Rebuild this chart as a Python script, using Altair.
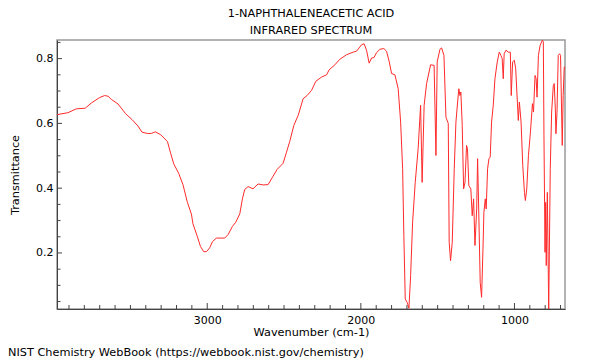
import altair as alt
import pandas as pd

# ---- data ----
wavenumber = [3978, 3907, 3852, 3794, 3754, 3700, 3668, 3646, 3624, 3581, 3531, 3490, 3451, 3425,
              3390, 3364, 3337, 3303, 3259, 3240, 3218, 3186, 3158, 3129, 3103, 3093, 3066, 3044,
              3023, 3005, 2984, 2966, 2940, 2886, 2864, 2836, 2814, 2788, 2771, 2756, 2734, 2702,
              2669, 2636, 2604, 2575, 2545, 2506, 2484, 2463, 2436, 2408, 2376, 2350, 2321, 2293,
              2256, 2223, 2207, 2169, 2137, 2093, 2050, 2028, 1995, 1979, 1963, 1946, 1930, 1915,
              1898, 1876, 1850, 1833, 1815, 1800, 1778, 1757, 1741, 1728, 1720, 1711, 1698, 1687,
              1676, 1663, 1646, 1627, 1611, 1601, 1588, 1572, 1546, 1523, 1511, 1503, 1485, 1474,
              1459, 1446, 1431, 1425, 1416, 1405, 1392, 1381, 1370, 1362, 1355, 1349, 1340, 1331,
              1322, 1312, 1306, 1297, 1284, 1275, 1266, 1257, 1246, 1240, 1231, 1223, 1214, 1205,
              1199, 1190, 1184, 1175, 1166, 1158, 1149, 1138, 1127, 1112, 1099, 1088, 1080, 1073,
              1067, 1055, 1040, 1027, 1021, 1012, 1001, 992, 981, 975, 968, 957, 946, 935, 929,
              920, 909, 896, 883, 876, 866, 859, 853, 844, 833, 818, 812, 808, 801, 797, 793, 786,
              777, 767, 758, 747, 741, 734, 730, 723, 715, 706, 700, 689, 683, 676, 671]
transmittance = [0.627, 0.633, 0.645, 0.647, 0.663, 0.680, 0.686, 0.684, 0.674, 0.660, 0.630, 0.612,
                 0.592, 0.573, 0.569, 0.569, 0.574, 0.565, 0.544, 0.511, 0.475, 0.446, 0.411, 0.356,
                 0.320, 0.290, 0.253, 0.220, 0.204, 0.204, 0.216, 0.235, 0.246, 0.246, 0.257, 0.282,
                 0.295, 0.321, 0.367, 0.396, 0.405, 0.398, 0.413, 0.410, 0.411, 0.434, 0.458, 0.477,
                 0.511, 0.544, 0.594, 0.625, 0.676, 0.686, 0.702, 0.730, 0.743, 0.750, 0.765, 0.781,
                 0.798, 0.812, 0.820, 0.823, 0.843, 0.846, 0.826, 0.786, 0.802, 0.803, 0.818, 0.829,
                 0.831, 0.823, 0.790, 0.754, 0.750, 0.707, 0.604, 0.460, 0.253, 0.058, 0.047, 0.029,
                 0.130, 0.295, 0.418, 0.522, 0.656, 0.418, 0.656, 0.723, 0.781, 0.779, 0.501, 0.790,
                 0.829, 0.833, 0.810, 0.619, 0.600, 0.233, 0.176, 0.233, 0.460, 0.604, 0.666, 0.707,
                 0.686, 0.697, 0.594, 0.398, 0.418, 0.532, 0.522, 0.408, 0.398, 0.315, 0.367, 0.223,
                 0.336, 0.491, 0.295, 0.109, 0.063, 0.212, 0.326, 0.367, 0.336, 0.460, 0.491, 0.496,
                 0.604, 0.656, 0.738, 0.790, 0.820, 0.810, 0.800, 0.738, 0.815, 0.826, 0.820, 0.820,
                 0.686, 0.790, 0.795, 0.769, 0.666, 0.609, 0.666, 0.604, 0.470, 0.387, 0.362, 0.398,
                 0.501, 0.573, 0.661, 0.635, 0.748, 0.738, 0.681, 0.810, 0.841, 0.857, 0.851, 0.563,
                 0.202, 0.356, 0.161, 0.387, 0.027, 0.460, 0.635, 0.717, 0.723, 0.645, 0.568, 0.635,
                 0.810, 0.815, 0.810, 0.532, 0.686, 0.774, 0.775]

x_domain = [3978, 671]
y_domain = [0.027, 0.8575]
x_labels = [1000, 2000, 3000]
x_minor = [v for v in range(700, 4000, 100) if v not in x_labels]
y_labels = [0.2, 0.4, 0.6, 0.8]
y_minor = [0.05, 0.10, 0.15, 0.25, 0.30, 0.35, 0.45, 0.50, 0.55, 0.65, 0.70, 0.75, 0.85]

title_lines = ["1-NAPHTHALENEACETIC ACID", "INFRARED SPECTRUM"]
credit = "NIST Chemistry WebBook (https://webbook.nist.gov/chemistry)"

W, H = 508, 269
FONT = "DejaVu Sans"

df = pd.DataFrame({"wn": wavenumber, "t": transmittance})

xscale = alt.Scale(domain=x_domain, nice=False, zero=False)
yscale = alt.Scale(domain=y_domain, nice=False, zero=False)

line = alt.Chart(df).mark_line(color="#ff2a2a", strokeWidth=1).encode(
    x=alt.X("wn:Q", scale=xscale, title="Wavenumber (cm-1)",
            axis=alt.Axis(values=x_labels, format="d", ticks=False, tickSize=0, grid=False,
                          labelPadding=5, titlePadding=1)),
    y=alt.Y("t:Q", scale=yscale, title="Transmittance",
            axis=alt.Axis(values=y_labels, format=".1f", ticks=False, tickSize=0, grid=False,
                          labelPadding=4, titlePadding=15)),
    order="wn:Q",
)

def xticks(vals, size):
    return alt.Chart(pd.DataFrame({"v": vals})).mark_rule(color="#444", strokeWidth=1).encode(
        x=alt.X("v:Q", scale=xscale), y=alt.value(H), y2=alt.value(H - size))

def yticks(vals, size):
    return alt.Chart(pd.DataFrame({"v": vals})).mark_rule(color="#444", strokeWidth=1).encode(
        y=alt.Y("v:Q", scale=yscale), x=alt.value(0), x2=alt.value(size))

credit_text = alt.Chart(pd.DataFrame({"c": [credit]})).mark_text(
    align="left", baseline="alphabetic", font=FONT, fontSize=11.3, color="black"
).encode(text="c:N", x=alt.value(-49), y=alt.value(316))

chart = alt.layer(
    line, xticks(x_labels, 6), xticks(x_minor, 4), yticks(y_labels, 5), yticks(y_minor, 3.5),
    credit_text,
).properties(
    width=W, height=H,
    autosize=alt.AutoSizeParams(type="none"),
    padding={"left": 49, "top": 32, "right": 20, "bottom": 50},
    title=alt.TitleParams(text=title_lines, font=FONT, fontSize=11.3, fontWeight="normal",
                          color="black", lineHeight=17, offset=2, anchor="middle"),
).configure_view(
    stroke="#999999", strokeWidth=1.5
).configure_axis(
    labelFont=FONT, labelFontSize=11, labelColor="black",
    titleFont=FONT, titleFontSize=11.3, titleFontWeight="normal", titleColor="black",
    domainColor="#444444", domainWidth=1,
)

chart.save("out.html", embed_options={"renderer": "svg", "actions": False})
